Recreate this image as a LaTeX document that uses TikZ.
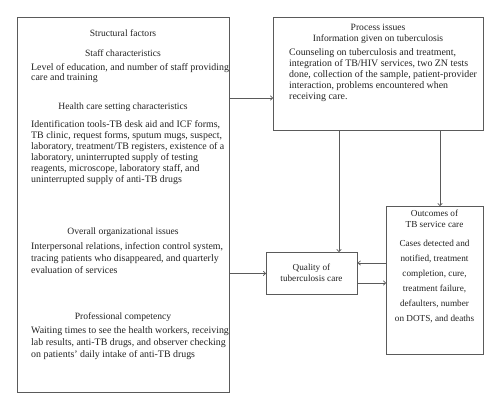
\documentclass[tikz,border=0pt]{standalone}
\usepackage{fontspec}
\setmainfont{Liberation Serif}
\usetikzlibrary{arrows.meta}
\definecolor{linegray}{HTML}{5A5A5A}
\definecolor{textcol}{HTML}{222222}
\begin{document}
\begin{tikzpicture}[x=1pt,y=-1pt,
  box/.style={draw=linegray, line width=0.8pt, inner sep=0pt, anchor=north west},
  conn/.style={draw=linegray, line width=0.7pt, -{To[length=3pt,width=5pt]}},
  head/.style={inner sep=0pt, font=\fontsize{9.6}{11}\selectfont, text=textcol},
  small/.style={inner sep=0pt, font=\fontsize{9.2}{11}\selectfont, text=textcol},
  para/.style={inner sep=0pt, align=left, anchor=north west, text=textcol},
]
\useasboundingbox (0,0) rectangle (500,409);

% boxes
\node[box, minimum width=212pt, minimum height=375pt] (struct) at (17,17) {};
\node[box, minimum width=210pt, minimum height=113pt] (proc) at (273,17) {};
\node[box, minimum width=91pt, minimum height=42pt] (qual) at (266,252) {};
\node[box, minimum width=97pt, minimum height=148pt] (outc) at (386,206) {};

% structural factors text
\node[head] (t1) at (123,33) {Structural factors};
\node[head] (t2) at (123,53) {Staff characteristics};
\node[para, font=\fontsize{9.9}{9.6}\selectfont] (p1) at (31,63.3) {Level of education, and number of staff providing\\care and training};
\node[head] (t3) at (123,107) {Health care setting characteristics};
\node[para, font=\fontsize{9.9}{11}\selectfont] (p2) at (31,120.8) {Identification tools-TB desk aid and ICF forms,\\TB clinic, request forms, sputum mugs, suspect,\\laboratory, treatment/TB registers, existence of a\\laboratory, uninterrupted supply of testing\\reagents, microscope, laboratory staff, and\\uninterrupted supply of anti-TB drugs};
\node[head] (t4) at (123,232) {Overall organizational issues};
\node[para, font=\fontsize{9.9}{12}\selectfont] (p3) at (31,242.3) {Interpersonal relations, infection control system,\\tracing patients who disappeared, and quarterly\\evaluation of services};
\node[head] (t5) at (123,317) {Professional competency};
\node[para, font=\fontsize{9.9}{12}\selectfont] (p4) at (31,326.3) {Waiting times to see the health workers, receiving\\lab results, anti-TB drugs, and observer checking\\on patients' daily intake of anti-TB drugs};

% process text
\node[head] (t6) at (378,27) {Process issues};
\node[head] (t7) at (378,39) {Information given on tuberculosis};
\node[para, font=\fontsize{9.9}{11}\selectfont] (p5) at (289,48.8) {Counseling on tuberculosis and treatment,\\integration of TB/HIV services, two ZN tests\\done, collection of the sample, patient-provider\\interaction, problems encountered when\\receiving care.};

% quality text
\node[small, align=center] (t8) at (311.5,272.5) {Quality of\\tuberculosis care};

% outcomes text
\node[small, align=center] (t9) at (434.5,218.5) {Outcomes of\\TB service care};
\node[para, align=center, anchor=north, font=\fontsize{9.2}{15}\selectfont] (p6) at (434.5,239.8) {Cases detected and\\notified, treatment\\completion, cure,\\treatment failure,\\defaulters, number\\on DOTS, and deaths};

% connectors
\coordinate (c98) at (0,98);
\coordinate (cx339) at (339,0);
\coordinate (cx440) at (440,0);
\coordinate (c263) at (0,263);
\coordinate (c283) at (0,283);
\draw[conn] (struct.east |- c98) -- (proc.west |- c98);
\draw[conn] (struct.east |- qual.west) -- (qual.west);
\draw[conn] (proc.south -| cx339) -- (qual.north -| cx339);
\draw[conn] (proc.south -| cx440) -- (outc.north -| cx440);
\draw[conn] (outc.west |- c263) -- (qual.east |- c263);
\draw[conn] (qual.east |- c283) -- (outc.west |- c283);
\end{tikzpicture}
\end{document}
